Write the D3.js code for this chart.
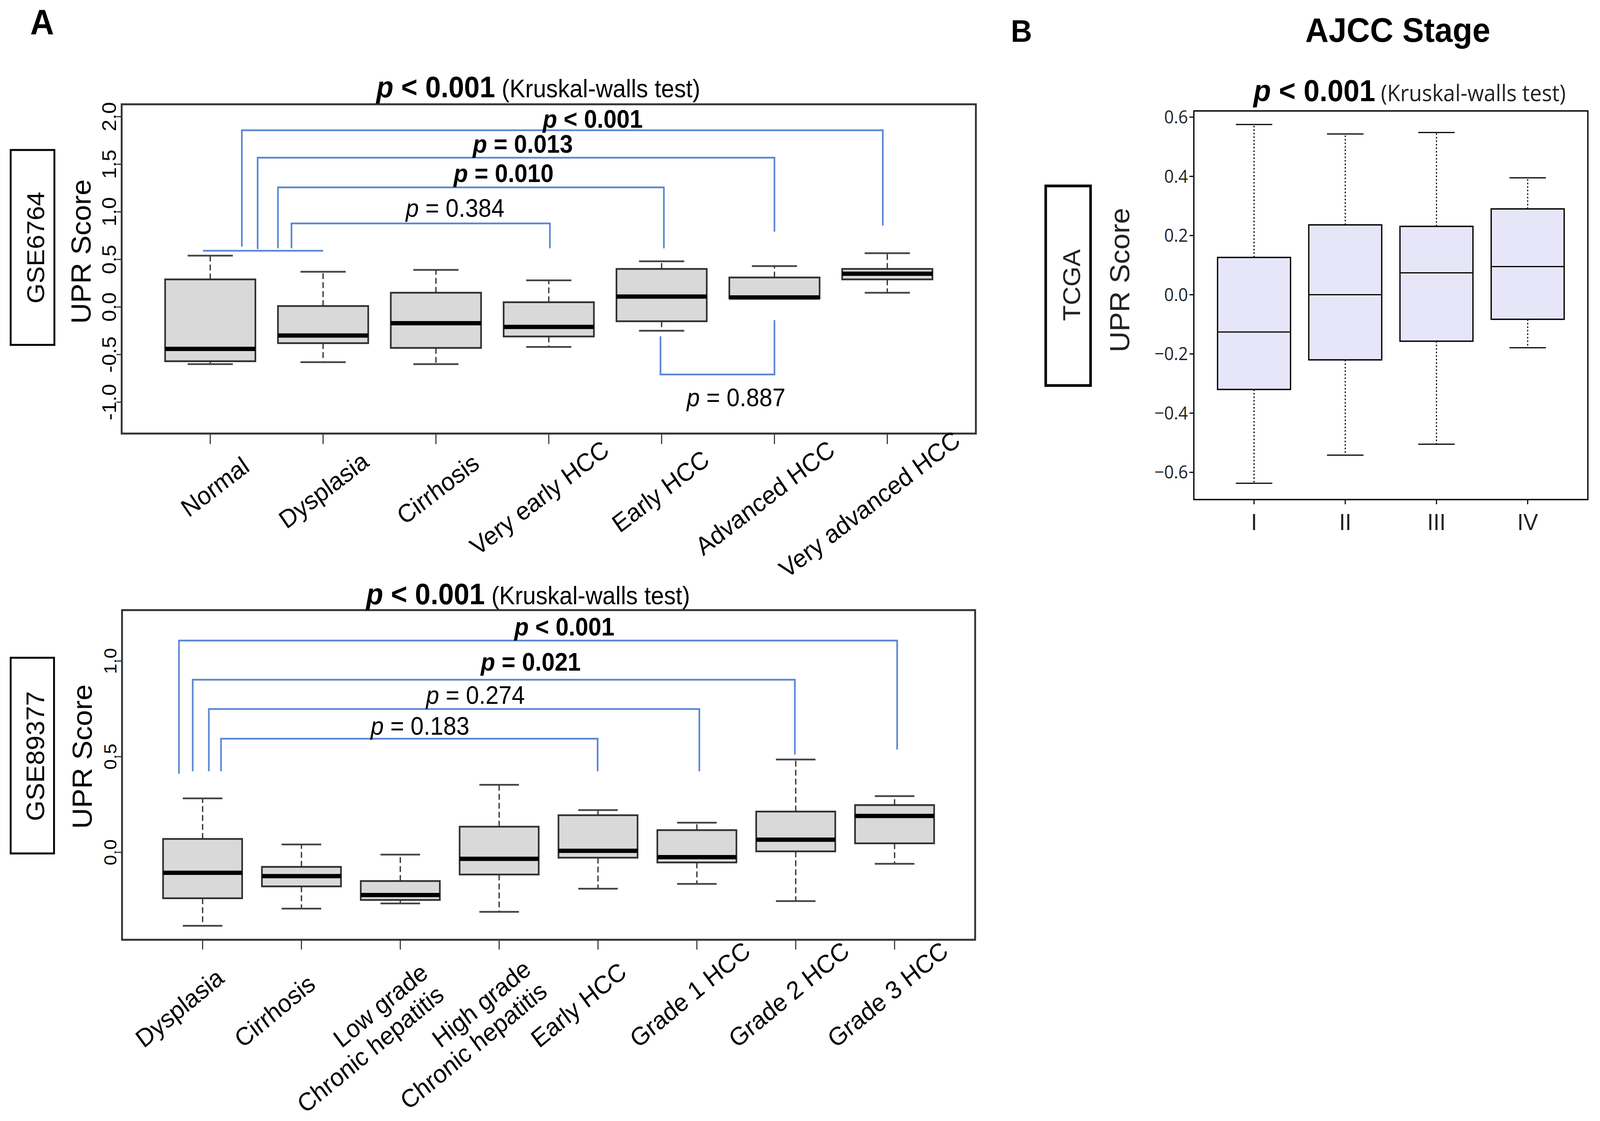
<!DOCTYPE html>
<html>
<head>
<meta charset="utf-8">
<script src="https://cdn.jsdelivr.net/npm/d3@7"></script>
<style>
html,body{margin:0;padding:0;background:#fff;overflow:hidden;}
svg{display:block;}
text{font-family:"Liberation Sans",Arial,Helvetica,sans-serif;}
</style>
</head>
<body>
<div id="chart"></div>
<script>
// ---- GSE6764 (panel A, top)
var gse6764Groups = ["Normal","Dysplasia","Cirrhosis","Very early HCC","Early HCC","Advanced HCC","Very advanced HCC"];
var gse6764Low  = [-0.60,-0.58,-0.60,-0.42,-0.25, 0.09, 0.15];
var gse6764Q1   = [-0.57,-0.38,-0.43,-0.31,-0.15, 0.09, 0.29];
var gse6764Med  = [-0.44,-0.30,-0.17,-0.21, 0.11, 0.10, 0.35];
var gse6764Q3   = [ 0.29, 0.01, 0.15, 0.05, 0.40, 0.31, 0.40];
var gse6764High = [ 0.54, 0.37, 0.39, 0.28, 0.48, 0.43, 0.565];
var gse6764Ticks = [-1.0,-0.5,0.0,0.5,1.0,1.5,2.0];
// pairwise comparisons: ends in group-index units, heights in score units
var gse6764Pairs = [
  {from:-0.065, to:1.00, level:0.591, legA:0.591, legB:0.591, label:null},
  {from:0.28, to:5.96, level:1.857, legA:0.634, legB:0.858, op:"<", p:"0.001", bold:true,  lx:3.39, ly:1.884},
  {from:0.42, to:5.00, level:1.569, legA:0.608, legB:0.792, op:"=", p:"0.013", bold:true,  lx:2.77, ly:1.622},
  {from:0.60, to:4.02, level:1.257, legA:0.616, legB:0.616, op:"=", p:"0.010", bold:true,  lx:2.60, ly:1.314},
  {from:0.72, to:3.01, level:0.878, legA:0.616, legB:0.616, op:"=", p:"0.384", bold:false, lx:2.17, ly:0.948},
  {from:3.99, to:5.00, level:-0.709, legA:-0.308, legB:-0.138, op:"=", p:"0.887", bold:false, lx:4.66, ly:-1.043}
];

// ---- GSE89377 (panel A, bottom)
var gse89377Groups = ["Dysplasia","Cirrhosis","Low grade\nChronic hepatitis","High grade\nChronic hepatitis","Early HCC","Grade 1 HCC","Grade 2 HCC","Grade 3 HCC"];
var gse89377Low  = [-0.384,-0.294,-0.267,-0.311,-0.190,-0.165,-0.255,-0.060];
var gse89377Q1   = [-0.240,-0.178,-0.249,-0.116,-0.028,-0.053, 0.005, 0.047];
var gse89377Med  = [-0.107,-0.124,-0.223,-0.034, 0.008,-0.025, 0.066, 0.190];
var gse89377Q3   = [ 0.070,-0.076,-0.150, 0.134, 0.194, 0.116, 0.213, 0.247];
var gse89377High = [ 0.282, 0.041,-0.012, 0.353, 0.221, 0.155, 0.485, 0.294];
var gse89377Ticks = [0.0,0.5,1.0];
var gse89377Pairs = [
  {from:-0.239, to:7.026, level:1.107, legA:0.411, legB:0.537, op:"<", p:"0.001", bold:true,  lx:3.66, ly:1.133},
  {from:-0.100, to:5.991, level:0.902, legA:0.424, legB:0.511, op:"=", p:"0.021", bold:true,  lx:3.32, ly:0.949},
  {from:0.063,  to:5.025, level:0.749, legA:0.424, legB:0.424, op:"=", p:"0.274", bold:false, lx:2.76, ly:0.776},
  {from:0.186,  to:3.996, level:0.594, legA:0.424, legB:0.424, op:"=", p:"0.183", bold:false, lx:2.20, ly:0.615}
];

// ---- TCGA AJCC stage (panel B)
var tcgaStages = ["I","II","III","IV"];
var tcgaLow  = [-0.637,-0.542,-0.505,-0.179];
var tcgaQ1   = [-0.320,-0.220,-0.157,-0.083];
var tcgaMed  = [-0.126, 0.000, 0.074, 0.095];
var tcgaQ3   = [ 0.126, 0.236, 0.231, 0.290];
var tcgaHigh = [ 0.575, 0.543, 0.548, 0.395];
var tcgaTicks = [-0.6,-0.4,-0.2,0.0,0.2,0.4,0.6];

var W = 4353, H = 2870;
var svg = d3.select("#chart").append("svg")
  .attr("viewBox","0 0 "+W+" "+H)
  .attr("preserveAspectRatio","none")
  .style("width","100vw").style("height","100vh")
  .style("background","#fff");

var blue = "#5b87d6";

function xAt(sc, i){ return sc(sc.domain()[0]) + i*sc.step(); }

function drawBoxes(g, x, y, cats, lo, q1, md, q3, hi, st){
  var bw = x.step()*0.8;
  var data = cats.map(function(c,i){
    return {c:c, lo:lo[i], q1:q1[i], md:md[i], q3:q3[i], hi:hi[i]};
  });
  var b = g.selectAll("g.box").data(data).enter().append("g").attr("class","box");
  b.append("line")
    .attr("x1",function(d){return x(d.c);}).attr("x2",function(d){return x(d.c);})
    .attr("y1",function(d){return y(d.q3);}).attr("y2",function(d){return y(d.hi);})
    .attr("stroke",st.wColor).attr("stroke-width",st.wWidth).attr("stroke-dasharray",st.dash);
  b.append("line")
    .attr("x1",function(d){return x(d.c);}).attr("x2",function(d){return x(d.c);})
    .attr("y1",function(d){return y(d.q1);}).attr("y2",function(d){return y(d.lo);})
    .attr("stroke",st.wColor).attr("stroke-width",st.wWidth).attr("stroke-dasharray",st.dash);
  ["hi","lo"].forEach(function(k){
    b.append("line")
      .attr("x1",function(d){return x(d.c)-bw/4;}).attr("x2",function(d){return x(d.c)+bw/4;})
      .attr("y1",function(d){return y(d[k]);}).attr("y2",function(d){return y(d[k]);})
      .attr("stroke",st.capColor).attr("stroke-width",st.capWidth);
  });
  b.append("rect")
    .attr("x",function(d){return x(d.c)-bw/2;})
    .attr("y",function(d){return y(d.q3);})
    .attr("width",bw)
    .attr("height",function(d){return y(d.q1)-y(d.q3);})
    .attr("fill",st.fill).attr("stroke",st.stroke).attr("stroke-width",st.sw);
  b.append("line")
    .attr("x1",function(d){return x(d.c)-bw/2;}).attr("x2",function(d){return x(d.c)+bw/2;})
    .attr("y1",function(d){return y(d.md);}).attr("y2",function(d){return y(d.md);})
    .attr("stroke","#000").attr("stroke-width",st.mw);
}

function pText(g, xpos, ypos, op, p, bold, size, anchor){
  var t = g.append("text").attr("x",xpos).attr("y",ypos)
    .attr("text-anchor",anchor||"middle").attr("font-size",size)
    .attr("font-weight",bold?"bold":"normal").attr("fill","#000");
  t.append("tspan").attr("font-style","italic").text("p");
  t.append("tspan").text(" " + op + " " + p);
  return t;
}

function drawPairs(g, x, y, pairs, size){
  pairs.forEach(function(d){
    var xa = xAt(x,d.from), xb = xAt(x,d.to);
    g.append("path")
      .attr("d","M"+xa+","+y(d.legA)+"V"+y(d.level)+"H"+xb+"V"+y(d.legB))
      .attr("fill","none").attr("stroke",blue).attr("stroke-width",4.5);
    if(d.p) pText(g, xAt(x,d.lx), y(d.ly), d.op, d.p, d.bold, size);
  });
}

var styleA = {fill:"#d9d9d9", stroke:"#303030", sw:4.5, mw:11, wColor:"#333", wWidth:3.5, dash:"15,8", capColor:"#444", capWidth:4.5};
var styleB = {fill:"#e6e6f8", stroke:"#000", sw:3.5, mw:3, wColor:"#000", wWidth:3, dash:"4,5", capColor:"#000", capWidth:3};

// ================= Panel A top : GSE6764 =================
(function(){
  var L=331, R=2655, T=267, B=1110;
  var g = svg.append("g");
  var x = d3.scalePoint().domain(gse6764Groups).range([L,R]).padding(0.785);
  var y = d3.scaleLinear().domain([-1.33,2.13]).range([B,T]);

  drawBoxes(g, x, y, gse6764Groups, gse6764Low, gse6764Q1, gse6764Med, gse6764Q3, gse6764High, styleA);
  drawPairs(g, x, y, gse6764Pairs, 64);

  g.append("rect").attr("x",L).attr("y",T).attr("width",R-L).attr("height",B-T)
    .attr("fill","none").attr("stroke","#333").attr("stroke-width",5);

  // y axis
  gse6764Ticks.forEach(function(v){
    g.append("line").attr("x1",L).attr("x2",L-14).attr("y1",y(v)).attr("y2",y(v))
      .attr("stroke","#333").attr("stroke-width",3);
    g.append("text").attr("transform","translate(316,"+y(v)+") rotate(-90)")
      .attr("text-anchor","middle").attr("font-size",54).text(v.toFixed(1));
  });
  // x axis: slanted labels pivot at 70% of their length
  gse6764Groups.forEach(function(c){
    g.append("line").attr("x1",x(c)).attr("x2",x(c)).attr("y1",B).attr("y2",B+27)
      .attr("stroke","#333").attr("stroke-width",3);
    var t = g.append("text").attr("font-size",65).attr("text-anchor","start").text(c);
    var len = t.node().getComputedTextLength();
    t.attr("x",-0.7*len)
     .attr("transform","translate("+(x(c)+60)+",1240) rotate(-36)");
  });

  g.append("text").attr("transform","translate(247,644) rotate(-90)")
    .attr("text-anchor","middle").attr("font-size",74).text("UPR Score");
  g.append("rect").attr("x",29).attr("y",384).attr("width",119).attr("height",499)
    .attr("fill","none").attr("stroke","#000").attr("stroke-width",5);
  g.append("text").attr("transform","translate(120,634) rotate(-90)")
    .attr("text-anchor","middle").attr("font-size",66).text("GSE6764");

  var t = pText(g, 1024, 249, "<", "0.001", true, 76, "start");
  t.append("tspan").attr("font-weight","normal").attr("font-size",64).text(" (Kruskal-walls test)");

  svg.append("text").attr("x",82).attr("y",88).attr("font-size",90).attr("font-weight","bold").text("A");
})();

// ================= Panel A bottom : GSE89377 =================
(function(){
  var L=332, R=2653, T=1562, B=2406;
  var g = svg.append("g");
  var x = d3.scalePoint().domain(gse89377Groups).range([L,R]).padding(0.815);
  var y = d3.scaleLinear().domain([-0.457,1.266]).range([B,T]);

  drawBoxes(g, x, y, gse89377Groups, gse89377Low, gse89377Q1, gse89377Med, gse89377Q3, gse89377High, styleA);
  drawPairs(g, x, y, gse89377Pairs, 64);

  g.append("rect").attr("x",L).attr("y",T).attr("width",R-L).attr("height",B-T)
    .attr("fill","none").attr("stroke","#333").attr("stroke-width",5);

  gse89377Ticks.forEach(function(v){
    g.append("line").attr("x1",L).attr("x2",L-14).attr("y1",y(v)).attr("y2",y(v))
      .attr("stroke","#333").attr("stroke-width",3);
    g.append("text").attr("transform","translate(317,"+y(v)+") rotate(-90)")
      .attr("text-anchor","middle").attr("font-size",48).text(v.toFixed(1));
  });
  // x axis: first line starts at the pivot, further lines right-aligned to it
  gse89377Groups.forEach(function(c){
    g.append("line").attr("x1",x(c)).attr("x2",x(c)).attr("y1",B).attr("y2",B+25)
      .attr("stroke","#333").attr("stroke-width",3);
    var t = g.append("text").attr("transform","translate("+(x(c)-160)+",2685) rotate(-38)")
      .attr("font-size",65).attr("text-anchor","end");
    var first = null;
    c.split("\n").forEach(function(line,i){
      var ts = t.append("tspan").attr("dy",i?"1.1em":0).text(line);
      if(i===0) first = ts;
    });
    var len = first.node().getComputedTextLength();
    t.selectAll("tspan").attr("x",len);
  });

  g.append("text").attr("transform","translate(250,1937) rotate(-90)")
    .attr("text-anchor","middle").attr("font-size",74).text("UPR Score");
  g.append("rect").attr("x",29).attr("y",1684).attr("width",118).attr("height",501)
    .attr("fill","none").attr("stroke","#000").attr("stroke-width",5);
  g.append("text").attr("transform","translate(120,1936) rotate(-90)")
    .attr("text-anchor","middle").attr("font-size",68).text("GSE89377");

  var t = pText(g, 996, 1547, "<", "0.001", true, 76, "start");
  t.append("tspan").attr("font-weight","normal").attr("font-size",64).text(" (Kruskal-walls test)");
})();

// ================= Panel B : TCGA =================
(function(){
  var L=3248, R=4320, T=284, B=1279;
  var g = svg.append("g");
  var x = d3.scalePoint().domain(tcgaStages).range([L,R]).padding(0.66);
  var y = d3.scaleLinear().domain([-0.692,0.621]).range([B,T]);

  drawBoxes(g, x, y, tcgaStages, tcgaLow, tcgaQ1, tcgaMed, tcgaQ3, tcgaHigh, styleB);

  g.append("rect").attr("x",L).attr("y",T).attr("width",R-L).attr("height",B-T)
    .attr("fill","none").attr("stroke","#000").attr("stroke-width",3.5);

  var fmt = d3.format(".1f");
  tcgaTicks.forEach(function(v){
    g.append("line").attr("x1",L).attr("x2",L-12).attr("y1",y(v)).attr("y2",y(v))
      .attr("stroke","#000").attr("stroke-width",3);
    g.append("text").attr("x",L-16).attr("y",y(v)).attr("dy","0.35em")
      .attr("text-anchor","end").attr("font-size",46)
      .style("font-family","'Open Sans',sans-serif").attr("fill","#222").text(fmt(v));
  });
  tcgaStages.forEach(function(c){
    g.append("line").attr("x1",x(c)).attr("x2",x(c)).attr("y1",B).attr("y2",B+12)
      .attr("stroke","#000").attr("stroke-width",3);
    g.append("text").attr("x",x(c)).attr("y",1357).attr("text-anchor","middle")
      .attr("font-size",60).attr("fill","#222").text(c);
  });

  g.append("text").attr("transform","translate(3072,717) rotate(-90)")
    .attr("text-anchor","middle").attr("font-size",74).attr("fill","#222").text("UPR Score");
  g.append("rect").attr("x",2845).attr("y",476).attr("width",122).attr("height",511)
    .attr("fill","none").attr("stroke","#000").attr("stroke-width",7);
  g.append("text").attr("transform","translate(2939,730) rotate(-90)")
    .attr("text-anchor","middle").attr("font-size",66).attr("fill","#222").text("TCGA");

  g.append("text").attr("x",3803).attr("y",107).attr("text-anchor","middle")
    .attr("font-size",88).attr("font-weight","bold").text("AJCC Stage");
  var t = pText(g, 3410, 259, "<", "0.001", true, 78, "start");
  t.append("tspan").attr("font-weight","normal").attr("font-size",58)
    .style("font-family","'Open Sans',sans-serif").attr("fill","#222").text(" (Kruskal-walls test)");

  svg.append("text").attr("x",2750).attr("y",107).attr("font-size",80).attr("font-weight","bold").text("B");
})();
</script>
</body>
</html>
